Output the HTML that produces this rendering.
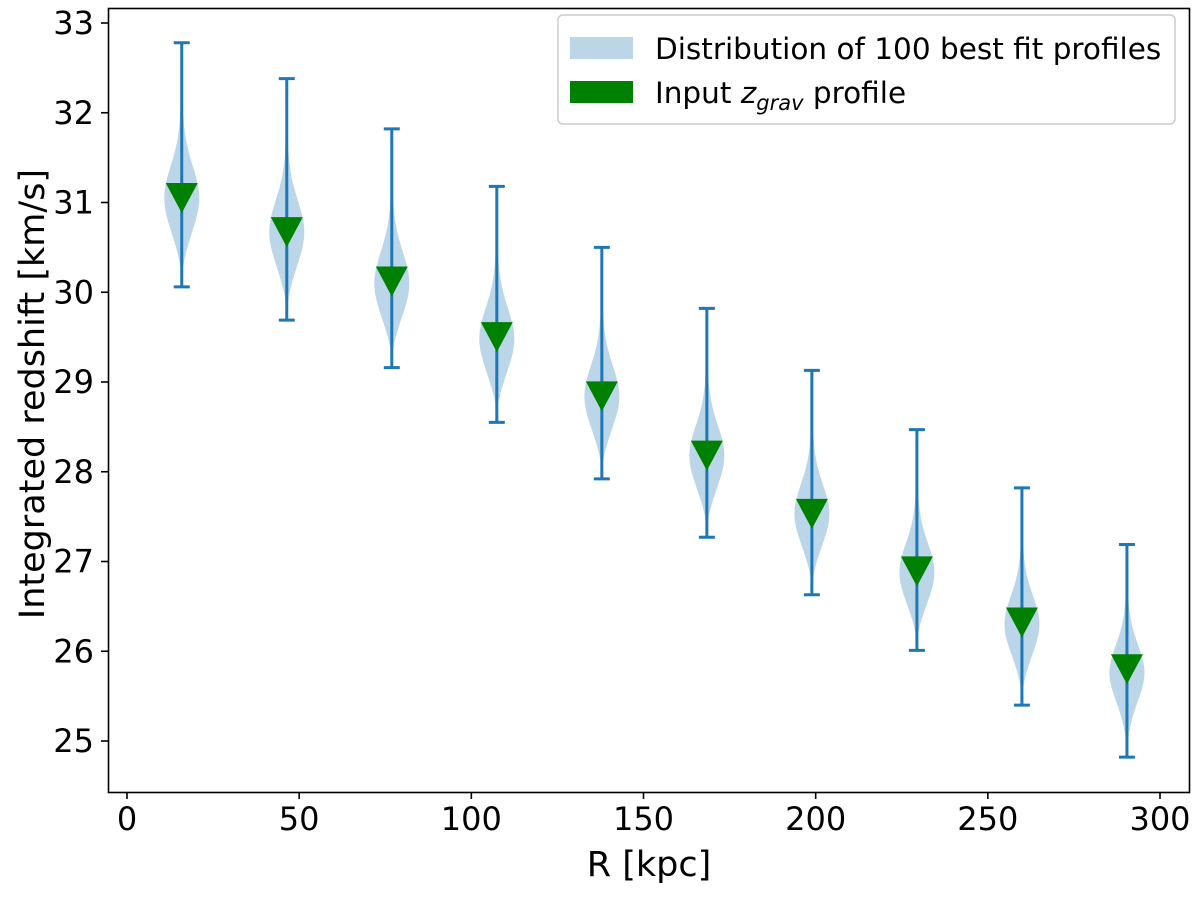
<!DOCTYPE html>
<html><head><meta charset="utf-8"><style>
body{margin:0;background:#fff}
text{font-family:"DejaVu Sans","Liberation Sans",sans-serif;fill:#000}
</style></head><body>
<svg id="c" width="1200" height="892" viewBox="0 0 1200 892">
<rect x="0" y="0" width="1200" height="892" fill="#fff"/>
<g id="marks"></g>
<g id="axes"></g>
<rect x="108.5" y="8.5" width="1081" height="784" fill="none" stroke="#000" stroke-width="1.6"/>
<g>
<rect x="558" y="15" width="617" height="109" rx="5" fill="#fff" fill-opacity="0.8" stroke="#ccc" stroke-width="1.5"/>
<rect x="570" y="37" width="63" height="22" fill="#bcd6e8"/>
<text x="655" y="59" font-size="29.5">Distribution of 100 best fit profiles</text>
<rect x="570" y="81" width="63" height="22" fill="#008000"/>
<text x="655" y="103" font-size="29.5">Input <tspan font-style="italic">z</tspan><tspan font-style="italic" font-size="21" dy="7">grav</tspan><tspan dy="-7"> profile</tspan></text>
</g>
<text x="649" y="876" font-size="35" text-anchor="middle">R [kpc]</text>
<text transform="translate(44,394) rotate(-90)" font-size="35" text-anchor="middle">Integrated redshift [km/s]</text>
</svg>
<script>
const radii=[15.9,46.4,76.9,107.4,137.9,168.4,198.9,229.4,259.9,290.4];
const maxVals=[32.78,32.38,31.82,31.18,30.50,29.82,29.13,28.47,27.82,27.19];
const minVals=[30.06,29.69,29.16,28.55,27.92,27.27,26.63,26.01,25.40,24.82];
const centerVals=[31.05,30.67,30.10,29.48,28.84,28.18,27.53,26.88,26.30,25.76];
const inputVals=[31.05,30.67,30.12,29.50,28.84,28.18,27.53,26.89,26.32,25.80];
const xTicks=[0,50,100,150,200,250,300];
const yTicks=[25,26,27,28,29,30,31,32,33];
const NS="http://www.w3.org/2000/svg";
const xs=v=>127+v*(1160-127)/300;
const ys=v=>741-(v-25)*89.75;
const marks=document.getElementById('marks'),axes=document.getElementById('axes');
function mk(t,a,p){const e=document.createElementNS(NS,t);for(const k in a)e.setAttribute(k,a[k]);p.appendChild(e);return e;}
radii.forEach((r,i)=>{
  const cx=xs(r),c=centerVals[i],lo=minVals[i],hi=maxVals[i];
  const sd=(hi-lo)/8;let L=[],R=[];
  for(let k=0;k<=60;k++){const v=lo+(hi-lo)*k/60;const z=(v-c)/sd;
    const w=17.5*(0.8*Math.exp(-z*z/2)+0.2*Math.exp(-z*z/7))*(1-Math.exp(-Math.pow((v-lo)/(hi-lo)*10,2)))*(1-Math.exp(-Math.pow((hi-v)/(hi-lo)*10,2)));
    R.push((cx+w).toFixed(1)+','+ys(v).toFixed(1));L.unshift((cx-w).toFixed(1)+','+ys(v).toFixed(1));}
  const vio=mk('polygon',{points:R.concat(L).join(' '),fill:'#1f77b4','fill-opacity':0.3},marks);
  
  
  const g=mk('g',{stroke:'#1f77b4','stroke-width':3},marks);
  
  
  mk('line',{x1:cx,x2:cx,y1:ys(hi),y2:ys(lo)},g);
  mk('line',{x1:cx-8,x2:cx+8,y1:ys(hi),y2:ys(hi)},g);
  mk('line',{x1:cx-8,x2:cx+8,y1:ys(lo),y2:ys(lo)},g);
  const y=ys(inputVals[i]);
  const tri=mk('polygon',{points:`${cx-16},${y-15} ${cx+16},${y-15} ${cx},${y+15}`,fill:'#008000'},marks);
  
  
});
xTicks.forEach(t=>{const x=xs(t);
  mk('line',{x1:x,x2:x,y1:792,y2:799,stroke:'#000','stroke-width':1.6},axes);
  const tx=mk('text',{x:x,y:830,'font-size':32,'text-anchor':'middle'},axes);tx.textContent=t;
  
  });
yTicks.forEach(t=>{const y=ys(t);
  mk('line',{x1:101,x2:108,y1:y,y2:y,stroke:'#000','stroke-width':1.6},axes);
  const tx=mk('text',{x:94,y:y+11,'font-size':32,'text-anchor':'end'},axes);tx.textContent=t;
  
  });
</script>
</body></html>
